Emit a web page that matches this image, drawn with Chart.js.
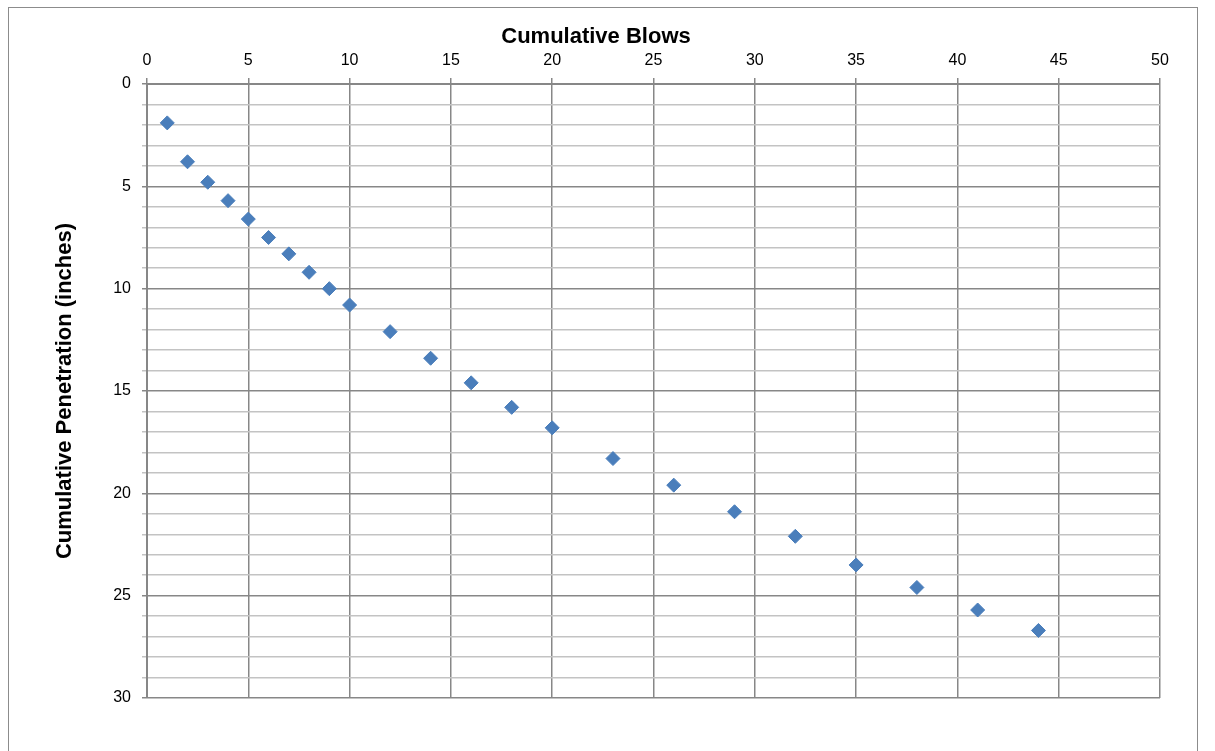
<!DOCTYPE html>
<html>
<head>
<meta charset="utf-8">
<script src="https://cdn.jsdelivr.net/npm/chart.js@4"></script>
<style>
  body { margin: 0; background: #fff; }
  #wrap { position: relative; width: 1215px; height: 751px; overflow: hidden; }
  #marco { position: absolute; left: 8px; top: 7px; width: 1188px; height: 780px; border: 1px solid #8c8c8c; }
  canvas { position: absolute; left: 0; top: 0; }
</style>
</head>
<body>
<div id="wrap">
  <div id="marco"></div>
  <canvas id="grafica" width="1215" height="751"></canvas>
</div>
<script>
// Golpes acumulados (eje X, arriba)
const blows = [1, 2, 3, 4, 5, 6, 7, 8, 9, 10, 12, 14, 16, 18, 20, 23, 26, 29, 32, 35, 38, 41, 44];
// Penetracion acumulada en pulgadas (eje Y, invertido)
const penetration = [1.9, 3.8, 4.8, 5.7, 6.6, 7.5, 8.3, 9.2, 10.0, 10.8, 12.1, 13.4, 14.6, 15.8, 16.8, 18.3, 19.6, 20.9, 22.1, 23.5, 24.6, 25.7, 26.7];
// Rangos y pasos de los ejes
const xTicks = [0, 50, 5];
const yTicks = [0, 30, 1];
const yLabelEvery = 5;

const mayor = '#878787';
const menor = '#c3c3c3';

new Chart(document.getElementById('grafica'), {
    type: 'scatter',
    data: {
        datasets: [{
            data: blows.map((b, i) => ({ x: b, y: penetration[i] })),
            pointStyle: 'rectRot',
            pointRadius: 7,
            pointHoverRadius: 7,
            backgroundColor: '#4a7ebb',
            borderColor: '#4a7ebb',
            borderWidth: 1
        }]
    },
    options: {
        responsive: false,
        animation: false,
        layout: { padding: { left: 32, top: 0, right: 55, bottom: 53 } },
        plugins: {
            legend: { display: false },
            tooltip: { enabled: false },
            // El titulo del eje X va centrado sobre todo el grafico, como en Excel
            title: {
                display: true,
                text: 'Cumulative Blows',
                color: '#000',
                padding: { top: 24, bottom: 0 },
                font: { family: 'Liberation Sans', size: 22, weight: 'bold', lineHeight: '26px' }
            }
        },
        scales: {
            x: {
                type: 'linear',
                position: 'top',
                min: xTicks[0], max: xTicks[1],
                afterFit: s => { s.height = 34; },
                ticks: { stepSize: xTicks[2], color: '#000', padding: 8, font: { family: 'Liberation Sans', size: 16 } },
                grid: { color: mayor, lineWidth: 1.5, tickLength: 6 },
                border: { color: mayor, width: 2 }
            },
            y: {
                type: 'linear',
                reverse: true,
                min: yTicks[0], max: yTicks[1],
                afterFit: s => { s.width = 115; },
                ticks: {
                    stepSize: yTicks[2],
                    autoSkip: false,
                    color: '#000',
                    padding: 11,
                    font: { family: 'Liberation Sans', size: 16 },
                    callback: v => (v % yLabelEvery === 0 ? v : '')
                },
                grid: {
                    tickLength: 5,
                    lineWidth: 1.5,
                    color: ctx => (ctx.tick && ctx.tick.value % yLabelEvery === 0 ? mayor : menor)
                },
                border: { color: mayor, width: 2 },
                title: {
                    display: true,
                    text: 'Cumulative Penetration (inches)',
                    color: '#000',
                    padding: { top: 20, bottom: 0 },
                    font: { family: 'Liberation Sans', size: 22, weight: 'bold', lineHeight: '26px' }
                }
            }
        }
    }
});
</script>
</body>
</html>
